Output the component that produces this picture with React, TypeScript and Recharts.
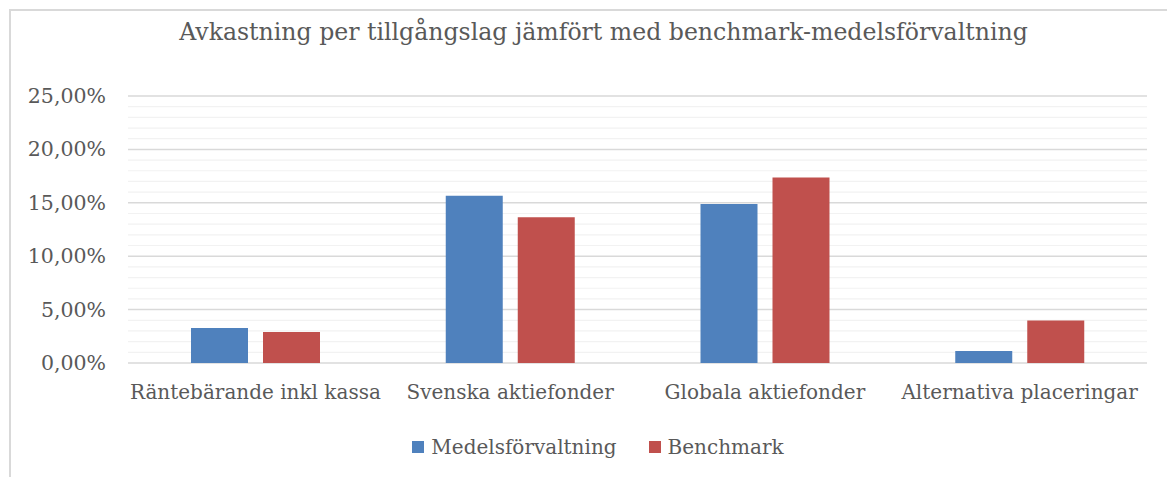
import { BarChart, Bar, XAxis, YAxis, CartesianGrid } from 'recharts'

const categories = ['Räntebärande inkl kassa', 'Svenska aktiefonder', 'Globala aktiefonder', 'Alternativa placeringar']
const medelsforvaltning = [3.27, 15.66, 14.89, 1.12]
const benchmark = [2.9, 13.64, 17.38, 3.98]
const yTicks = [0, 1, 2, 3, 4, 5, 6, 7, 8, 9, 10, 11, 12, 13, 14, 15, 16, 17, 18, 19, 20, 21, 22, 23, 24, 25]
const seriesNames = ['Medelsförvaltning', 'Benchmark']
const colors = ['#4f81bd', '#c0504d']

const data = categories.map((name, i) => ({ name, medel: medelsforvaltning[i], bench: benchmark[i] }))

const FONT = '"DejaVu Serif", serif'
const TEXT = '#595959'

const fmt = (v: number) => v.toFixed(2).replace('.', ',') + '%'

const YTick = ({ x, y, payload }: any) => {
  if (payload.value % 5 !== 0) return null
  return (
    <text x={x} y={y} dy={7} textAnchor="end" fill={TEXT} fontSize={20.5} fontFamily={FONT}>
      {fmt(payload.value)}
    </text>
  )
}

const GridLine = (props: any) => {
  const { x1, x2, y1, y2, index } = props
  const major = index % 5 === 0
  return <line key={props.key} x1={x1} x2={x2} y1={y1} y2={y2} stroke={major ? '#d9d9d9' : '#f2f2f2'} strokeWidth={major ? 1.5 : 1.2} />
}

export default function App() {
  return (
    <div style={{ position: 'absolute', left: 0, top: 0, width: 1167, height: 477, background: '#fff', overflow: 'hidden' }}>
      <div style={{ position: 'absolute', left: 9, top: 9, width: 1200, height: 500, borderLeft: '2px solid #d9d9d9', borderTop: '2px solid #d9d9d9' }} />
      <div style={{ position: 'absolute', left: 0, top: 18, width: 1207, textAlign: 'center', fontFamily: FONT, fontSize: 23.6, color: TEXT }}>
        Avkastning per tillgångslag jämfört med benchmark-medelsförvaltning
      </div>
      <div style={{ position: 'absolute', left: 0, top: 0 }}>
        <BarChart width={1167} height={477} data={data} margin={{ top: 96, right: 20, bottom: 64, left: 0 }}
          barCategoryGap={63} barGap={15} barSize={57}>
          <CartesianGrid vertical={false} horizontal={GridLine} />
          <XAxis dataKey="name" axisLine={false} tickLine={false} tickSize={0} tickMargin={22} height={50}
            tick={{ fill: TEXT, fontSize: 20, fontFamily: FONT }} interval={0} />
          <YAxis width={128} domain={[0, 25]} ticks={yTicks} interval={0} axisLine={false} tickLine={false}
            tickSize={0} tickMargin={22} tick={<YTick />} />
          <Bar dataKey="medel" fill={colors[0]} isAnimationActive={false} />
          <Bar dataKey="bench" fill={colors[1]} isAnimationActive={false} />
        </BarChart>
      </div>
      <div style={{ position: 'absolute', left: 0, top: 435, width: 1196, display: 'flex', justifyContent: 'center', fontFamily: FONT, fontSize: 20, color: TEXT }}>
        {seriesNames.map((n, i) => (
          <div key={n} style={{ display: 'flex', alignItems: 'center', marginLeft: i ? 32 : 0 }}>
            <span style={{ display: 'inline-block', width: 12, height: 12, background: colors[i], marginRight: 7 }} />
            {n}
          </div>
        ))}
      </div>
    </div>
  )
}
